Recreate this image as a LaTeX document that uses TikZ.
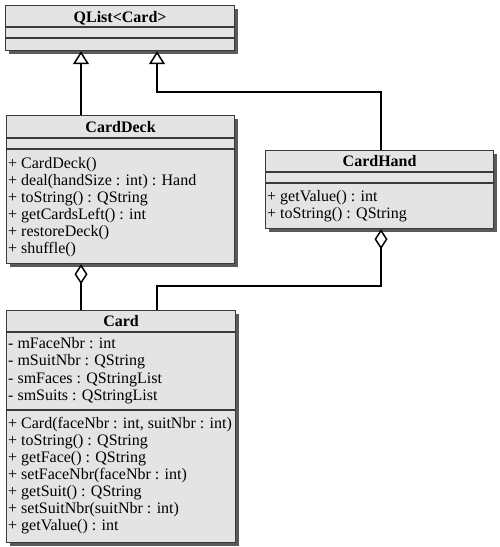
\documentclass[tikz,border=0pt]{standalone}
\usepackage{fontspec}
\setmainfont{Liberation Serif}
\usetikzlibrary{arrows.meta,shadows}
\definecolor{boxfill}{HTML}{E4E4E4}
\definecolor{boxline}{HTML}{3A3A3A}
\definecolor{shadowgray}{HTML}{5A5A5A}
\begin{document}
\begin{tikzpicture}[x=1pt,y=-1pt,
  classbox/.style={draw=boxline, line width=1.2pt, fill=boxfill, anchor=north west, inner sep=0pt,
    drop shadow={shadow xshift=3pt, shadow yshift=-3pt, fill=shadowgray, opacity=1}},
  sep/.style={draw=boxline, line width=1.2pt},
  title/.style={font=\fontsize{16}{17}\selectfont\bfseries, anchor=base, inner sep=0pt},
  member/.style={font=\fontsize{16}{17}\selectfont, anchor=base west, inner sep=0pt},
  conn/.style={line width=2pt, draw=black},
  inherit/.style={conn, -{Triangle[open, length=13pt, width=16pt, line width=1.5pt, fill=white]}},
  aggr/.style={conn, {Diamond[open, length=20pt, width=13pt, line width=1.5pt, fill=white]}-}]
\useasboundingbox (0,0) rectangle (500,547);

% class boxes
\node[classbox, minimum width=229pt, minimum height=45pt] (qlist) at (5,5) {};
\node[classbox, minimum width=228pt, minimum height=148pt] (deck) at (6,115) {};
\node[classbox, minimum width=228pt, minimum height=78pt] (hand) at (265,150) {};
\node[classbox, minimum width=229pt, minimum height=232pt] (card) at (6,310) {};

% compartments
\draw[sep] ([yshift=-22pt]qlist.north west) -- ([yshift=-22pt]qlist.north east);
\draw[sep] ([yshift=-33pt]qlist.north west) -- ([yshift=-33pt]qlist.north east);
\draw[sep] ([yshift=-23pt]deck.north west) -- ([yshift=-23pt]deck.north east);
\draw[sep] ([yshift=-34pt]deck.north west) -- ([yshift=-34pt]deck.north east);
\draw[sep] ([yshift=-22pt]hand.north west) -- ([yshift=-22pt]hand.north east);
\draw[sep] ([yshift=-33pt]hand.north west) -- ([yshift=-33pt]hand.north east);
\draw[sep] ([yshift=-22pt]card.north west) -- ([yshift=-22pt]card.north east);
\draw[sep] ([yshift=-100pt]card.north west) -- ([yshift=-100pt]card.north east);

% titles
\node[title] (qlist-t) at ([yshift=-17pt]qlist.north) {QList<Card>};
\node[title] (deck-t) at ([yshift=-17pt]deck.north) {CardDeck};
\node[title] (hand-t) at ([yshift=-16pt]hand.north) {CardHand};
\node[title] (card-t) at ([yshift=-16pt]card.north) {Card};

% members
\foreach \t [count=\i] in {{+ CardDeck()}, {+ deal(handSize : int) : Hand}, {+ toString() : QString},
  {+ getCardsLeft() : int}, {+ restoreDeck()}, {+ shuffle()}}
  \node[member] (deck-op\i) at ([xshift=2pt, yshift={-(36+17*\i)*1pt}]deck.north west) {\t};

\foreach \t [count=\i] in {{+ getValue() : int}, {+ toString() : QString}}
  \node[member] (hand-op\i) at ([xshift=2pt, yshift={-(35+16.5*\i)*1pt}]hand.north west) {\t};

\foreach \t [count=\i] in {{- mFaceNbr : int}, {- mSuitNbr : QString}, {- smFaces : QStringList},
  {- smSuits : QStringList}}
  \node[member] (card-at\i) at ([xshift=2pt, yshift={-(20.5+17.5*\i)*1pt}]card.north west) {\t};

\foreach \t [count=\i] in {{+ Card(faceNbr : int, suitNbr : int)}, {+ toString() : QString},
  {+ getFace() : QString}, {+ setFaceNbr(faceNbr : int)}, {+ getSuit() : QString},
  {+ setSuitNbr(suitNbr : int)}, {+ getValue() : int}}
  \node[member] (card-op\i) at ([xshift=2pt, yshift={-(101+17*\i)*1pt}]card.north west) {\t};

% connectors
\draw[inherit] ([xshift=75pt]deck.north west) -- ([xshift=76pt]qlist.south west);
\draw[inherit] ([xshift=116pt]hand.north west) -- ++(0,-58) -| ([xshift=152pt]qlist.south west);
\draw[aggr] ([xshift=75pt]deck.south west) -- ([xshift=75pt]card.north west);
\draw[aggr] ([xshift=116pt]hand.south west) -- ++(0,57) -| ([xshift=151pt]card.north west);
\end{tikzpicture}
\end{document}
